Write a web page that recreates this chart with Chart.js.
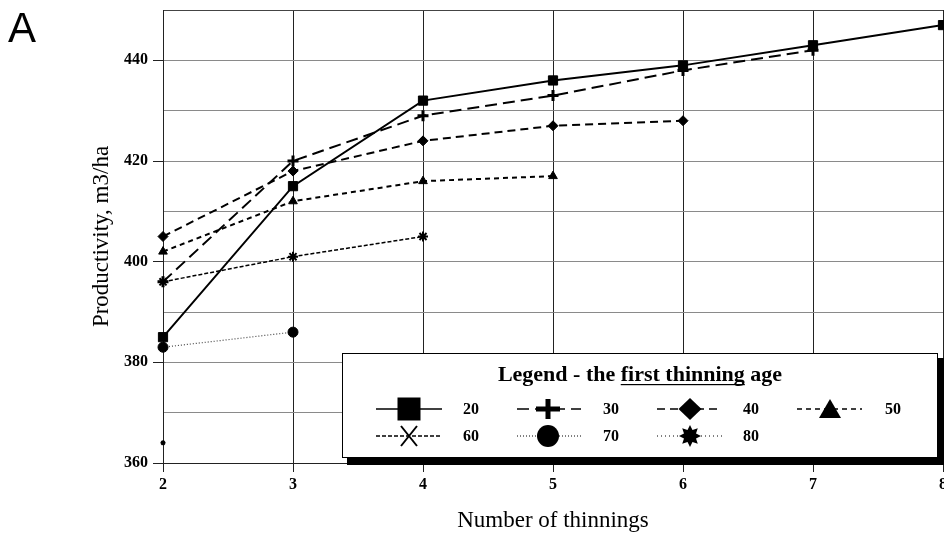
<!DOCTYPE html>
<html><head><meta charset="utf-8">
<script src="https://cdn.jsdelivr.net/npm/chart.js@4.4.1/dist/chart.umd.min.js"></script>
<style>html,body{margin:0;padding:0;background:#fff;}canvas{display:block;}</style>
</head><body>
<canvas id="c" width="944" height="535"></canvas>
<script>
// ---- data ----
const thinnings = ['2','3','4','5','6','7','8'];
const age20 = [385, 415, 432, 436, 439, 443, 447];
const age30 = [396, 420, 429, 433, 438, 442];
const age40 = [405, 418, 424, 427, 428];
const age50 = [402, 412, 416, 417];
const age60 = [396, 401, 405];
const age70 = [383, 386];
const age80 = [364];
const seriesNames = ['20','30','40','50','60','70','80'];
const yTickLabels = [360, 380, 400, 420, 440];
const panelLabel = 'A';
const xTitle = 'Number of thinnings';
const yTitle = 'Productivity, m3/ha';
const legendTitle = 'Legend - the first thinning age';

const SERIF = '"Liberation Serif", "Times New Roman", serif';

function ds(label, data, o) {
  return Object.assign({
    label, data, borderColor: '#000', backgroundColor: '#000',
    pointBackgroundColor: '#000', pointBorderColor: '#000',
    borderWidth: 2, tension: 0, fill: false, pointHoverRadius: 0
  }, o);
}

const datasets = [
  ds(seriesNames[0], age20, {pointStyle: 'rect', pointRadius: 6.5, pointBorderWidth: 1}),
  ds(seriesNames[1], age30, {borderDash: [12, 6], pointStyle: 'cross', pointRadius: 5.5, pointBorderWidth: 3}),
  ds(seriesNames[2], age40, {borderDash: [8, 5], pointStyle: 'rectRot', pointRadius: 5, pointBorderWidth: 1}),
  ds(seriesNames[3], age50, {borderDash: [5, 4], pointStyle: 'triangle', pointRadius: 5, pointBorderWidth: 1}),
  ds(seriesNames[4], age60, {borderDash: [4, 2], borderWidth: 1.5, pointStyle: 'star', pointRadius: 5, pointBorderWidth: 2}),
  ds(seriesNames[5], age70, {borderDash: [1, 2], borderWidth: 1.2, borderColor: '#444', pointStyle: 'circle', pointRadius: 5, pointBorderWidth: 1}),
  ds(seriesNames[6], age80, {borderDash: [1, 3], borderWidth: 1, pointStyle: 'star', pointRadius: 2.5, pointBorderWidth: 1.5})
];

// legend markers
function legendMarker(ctx, i, x, y) {
  ctx.save();
  ctx.fillStyle = '#000'; ctx.strokeStyle = '#000'; ctx.setLineDash([]);
  ctx.beginPath();
  if (i === 0) { ctx.fillRect(x - 11.5, y - 11.5, 23, 23); }
  else if (i === 1) { ctx.fillRect(x - 12, y - 2.5, 24, 5); ctx.fillRect(x - 2.5, y - 10, 5, 20); }
  else if (i === 2) { ctx.moveTo(x, y - 11); ctx.lineTo(x + 11.5, y); ctx.lineTo(x, y + 11); ctx.lineTo(x - 11.5, y); ctx.closePath(); ctx.fill(); }
  else if (i === 3) { ctx.moveTo(x, y - 10); ctx.lineTo(x + 11, y + 9); ctx.lineTo(x - 11, y + 9); ctx.closePath(); ctx.fill(); }
  else if (i === 4) { ctx.lineWidth = 2; ctx.moveTo(x - 8, y - 10); ctx.lineTo(x + 8, y + 10); ctx.moveTo(x + 8, y - 10); ctx.lineTo(x - 8, y + 10); ctx.stroke(); }
  else if (i === 5) { ctx.arc(x, y, 11, 0, Math.PI * 2); ctx.fill(); }
  else if (i === 6) {
    const n = 8, ro = 11, ri = 6.5;
    for (let k = 0; k < n * 2; k++) {
      const r = k % 2 === 0 ? ro : ri;
      const a = -Math.PI / 2 + k * Math.PI / n;
      const px = x + r * Math.cos(a), py = y + r * Math.sin(a);
      if (k === 0) ctx.moveTo(px, py); else ctx.lineTo(px, py);
    }
    ctx.closePath(); ctx.fill();
  }
  ctx.restore();
}

const legendPlugin = {
  id: 'boxLegend',
  afterDraw(chart) {
    const ctx = chart.ctx;
    const L = 342, T = 353, R = 938, B = 458;
    ctx.save();
    ctx.fillStyle = '#000';
    ctx.fillRect(L + 5, B, 944 - L - 5, 7);
    ctx.fillRect(R, T + 5, 944 - R, B - T + 2);
    ctx.fillStyle = '#fff';
    ctx.fillRect(L, T, R - L, B - T);
    ctx.strokeStyle = '#000'; ctx.lineWidth = 1;
    ctx.strokeRect(L + 0.5, T + 0.5, R - L - 1, B - T - 1);
    // title
    ctx.fillStyle = '#000';
    ctx.font = 'bold 22px ' + SERIF;
    ctx.textAlign = 'center'; ctx.textBaseline = 'alphabetic';
    ctx.fillText(legendTitle, (L + R) / 2, 381);
    // underline "first thinning"
    const full = ctx.measureText(legendTitle).width;
    const startX = (L + R) / 2 - full / 2;
    const pre = ctx.measureText('Legend - the ').width;
    const ul = ctx.measureText('first thinning').width;
    ctx.fillRect(startX + pre, 384, ul, 1.2);
    // items
    const cols = [{a: 376, b: 442, m: 409, t: 463}, {a: 517, b: 581, m: 548, t: 603},
                  {a: 657, b: 722, m: 690, t: 743}, {a: 797, b: 862, m: 830, t: 885}];
    const rows = [409, 436];
    ctx.font = 'bold 16px ' + SERIF;
    ctx.textAlign = 'left'; ctx.textBaseline = 'middle';
    chart.data.datasets.forEach((d, i) => {
      const c = cols[i % 4], y = rows[Math.floor(i / 4)];
      ctx.save();
      ctx.strokeStyle = '#000';
      ctx.lineWidth = i >= 5 ? 1 : 1.5;
      ctx.setLineDash(d.borderDash || []);
      ctx.beginPath(); ctx.moveTo(c.a, y); ctx.lineTo(c.b, y); ctx.stroke();
      ctx.restore();
      legendMarker(ctx, i, c.m, y);
      ctx.fillStyle = '#000';
      ctx.fillText(d.label, c.t, y + 1);
    });
    // panel letter
    ctx.font = '42px "Liberation Sans", Arial, sans-serif';
    ctx.textAlign = 'left'; ctx.textBaseline = 'alphabetic';
    ctx.fillText(panelLabel, 8, 42);
    ctx.restore();
  }
};

new Chart(document.getElementById('c'), {
  type: 'line',
  data: { labels: thinnings, datasets },
  options: {
    responsive: false, animation: false,
    layout: { autoPadding: false, padding: { top: 10, right: 1, left: 0, bottom: 0 } },
    plugins: { legend: { display: false }, tooltip: { enabled: false } },
    scales: {
      x: {
        type: 'category', offset: false,
        afterFit: s => { s.height = 72; s.paddingLeft = 0; s.paddingRight = 0; },
        grid: { color: '#222', lineWidth: 1, tickLength: 9, tickColor: '#222', offset: false },
        border: { color: '#222', width: 1 },
        ticks: { color: '#000', font: { family: SERIF, size: 16, weight: 'bold' }, padding: 3, maxRotation: 0 },
        title: { display: true, text: xTitle, color: '#000', font: { family: SERIF, size: 23 }, padding: { top: 0, bottom: 0 } }
      },
      y: {
        min: 360, max: 450,
        afterFit: s => { s.width = 163; s.paddingTop = 0; s.paddingBottom = 0; },
        afterBuildTicks: s => { s.ticks = []; for (let v = 360; v <= 450; v += 10) s.ticks.push({ value: v }); },
        grid: {
          color: c => (c.tick && c.tick.value === 450) ? '#444' : '#8a8a8a',
          lineWidth: 1, tickLength: 10,
          tickColor: c => (c.tick && yTickLabels.includes(c.tick.value)) ? '#222' : 'rgba(0,0,0,0)'
        },
        border: { color: '#222', width: 1 },
        ticks: {
          color: '#000', font: { family: SERIF, size: 16, weight: 'bold' }, padding: 5,
          callback: v => yTickLabels.includes(v) ? String(v) : ''
        },
        title: { display: true, text: yTitle, color: '#000', font: { family: SERIF, size: 23 }, padding: { top: 88, bottom: 0 } }
      }
    }
  },
  plugins: [legendPlugin]
});
</script>
</body></html>
